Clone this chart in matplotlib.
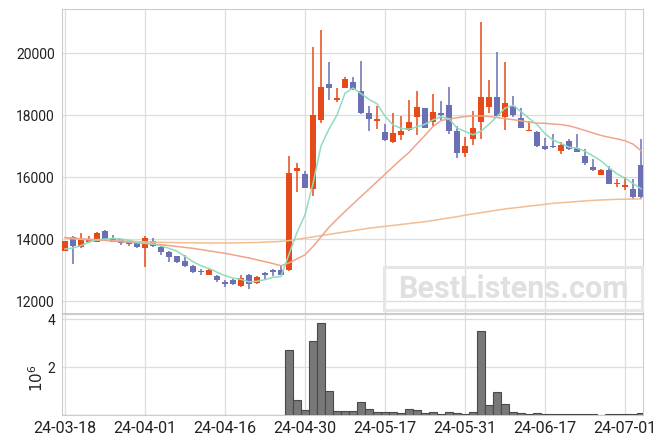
import matplotlib
matplotlib.use("Agg")
import matplotlib.pyplot as plt
import numpy as np
import pandas as pd
from matplotlib.patches import Rectangle

# trading calendar (KRX holidays skipped)
holidays = ["2024-04-10", "2024-05-01", "2024-05-06", "2024-05-15", "2024-06-06"]
dates = pd.bdate_range("2024-03-18", periods=73, freq="C", holidays=holidays)

opens = [13640, 14090, 13740, 13910, 13930, 14280, 14040, 14010, 13900, 13870,
         13710, 13950, 13760, 13580, 13460, 13310, 13150, 12980, 12850, 12830,
         12610, 12700, 12490, 12850, 12590, 12930, 13020, 13000, 13000, 16190,
         16110, 15610, 17860, 19010, 18500, 18890, 19080, 18790, 18070, 17810,
         17470, 17140, 17380, 17520, 17940, 18230, 17780, 18070, 18340, 17500,
         16770, 17230, 17780, 18260, 18590, 17940, 18300, 17910, 17500, 17460,
         17020, 17020, 16860, 17180, 16940, 16690, 16340, 16090, 16220, 15790,
         15700, 15630, 16400]
highs = [13960, 14100, 14210, 14110, 14240, 14290, 14140, 14020, 13980, 13880,
         14120, 14040, 13770, 13610, 13470, 13500, 13160, 13040, 13060, 12840,
         12680, 12710, 12850, 12870, 12830, 12940, 13030, 13130, 16690, 16460,
         16190, 20190, 20740, 19730, 18870, 19250, 19250, 19740, 18310, 18300,
         17730, 18060, 17970, 18490, 18790, 18240, 18680, 18460, 18920, 17660,
         17300, 18130, 21000, 19130, 20030, 19710, 18620, 18220, 17820, 17480,
         17260, 17400, 17150, 17230, 17400, 16920, 16600, 16270, 16350, 15960,
         16010, 15960, 17230]
lows = [13630, 13210, 13730, 13900, 13920, 13970, 13900, 13820, 13800, 13710,
        13110, 13750, 13500, 13270, 13240, 13100, 12910, 12850, 12840, 12640,
        12470, 12540, 12480, 12400, 12550, 12700, 12830, 12850, 12990, 15540,
        15660, 15400, 17750, 18500, 18420, 18880, 18830, 18050, 17500, 17550,
        17180, 17120, 17200, 17500, 17370, 17590, 17660, 17850, 17400, 16620,
        16660, 17050, 17240, 18060, 17990, 17520, 17960, 17580, 17490, 16990,
        16890, 16940, 16750, 16890, 16830, 16400, 16200, 16090, 15800, 15690,
        15600, 15300, 15300]
closes = [13960, 13770, 13990, 14020, 14210, 14010, 13930, 13870, 13840, 13740,
          14040, 13800, 13580, 13440, 13280, 13130, 12940, 12940, 13000, 12700,
          12550, 12550, 12770, 12550, 12790, 12840, 12940, 12860, 16150, 16310,
          15670, 18010, 18920, 18890, 18570, 19160, 18840, 18060, 17890, 17880,
          17190, 17420, 17490, 17780, 18260, 17600, 18100, 18000, 17480, 16780,
          17020, 17590, 18590, 18590, 17990, 18390, 18020, 17590, 17530, 17000,
          16920, 16980, 17050, 16900, 16830, 16460, 16220, 16220, 15800, 15830,
          15760, 15370, 15370]

ma5 = [13690, 13720, 13800, 13910, 13990, 14010, 14030, 14010, 13970, 13900,
       13880, 13850, 13790, 13710, 13620, 13450, 13280, 13150, 13060, 12940,
       12830, 12750, 12710, 12630, 12650, 12700, 12780, 12800, 13520, 14220,
       14790, 15800, 17010, 17560, 18010, 18710, 18880, 18700, 18510, 18370,
       17970, 17690, 17580, 17550, 17630, 17710, 17850, 17950, 17890, 17590,
       17480, 17370, 17490, 17710, 17960, 18230, 18320, 18120, 17900, 17700,
       17410, 17200, 17090, 16970, 16940, 16840, 16690, 16530, 16310, 16110,
       15970, 15800, 15630]
ma20 = [14060, 14040, 14020, 14000, 13990, 13970, 13950, 13930, 13910, 13890,
        13870, 13850, 13830, 13800, 13770, 13740, 13710, 13670, 13630, 13590,
        13550, 13500, 13450, 13400, 13340, 13280, 13220, 13150, 13240, 13370,
        13500, 13770, 14080, 14390, 14650, 14900, 15140, 15380, 15620, 15860,
        16100, 16340, 16580, 16800, 17080, 17350, 17640, 17830, 17880, 17920,
        17960, 17980, 17980, 17960, 17930, 17890, 17860, 17820, 17780, 17750,
        17740, 17720, 17700, 17660, 17590, 17510, 17430, 17350, 17290, 17240,
        17180, 17070, 16860]
ma120 = [14040, 14020, 14000, 13990, 13980, 13970, 13960, 13950, 13940, 13930,
         13920, 13910, 13905, 13900, 13895, 13890, 13890, 13885, 13885, 13885,
         13885, 13885, 13890, 13895, 13900, 13910, 13920, 13935, 13960, 14000,
         14040, 14080, 14120, 14160, 14200, 14240, 14280, 14320, 14360, 14390,
         14420, 14450, 14480, 14510, 14540, 14570, 14610, 14650, 14690, 14730,
         14780, 14820, 14860, 14900, 14940, 14980, 15010, 15040, 15070, 15100,
         15130, 15160, 15180, 15200, 15220, 15240, 15255, 15270, 15280, 15290,
         15295, 15300, 15305]

volume = [0] * 28 + [
    2.71e6, 0.61e6, 0.19e6, 3.07e6, 3.82e6, 0.99e6, 0.15e6, 0.15e6, 0.15e6, 0.53e6,
    0.24e6, 0.11e6, 0.11e6, 0.11e6, 0.07e6, 0.24e6, 0.19e6, 0.07e6, 0.11e6, 0.03e6,
    0.11e6, 0.07e6, 0.03e6, 0.11e6, 3.50e6, 0.42e6, 0.94e6, 0.44e6, 0.11e6, 0.07e6,
    0.03e6, 0.07e6, 0.03e6, 0.03e6, 0.03e6, 0.03e6, 0.03e6, 0.03e6, 0.03e6, 0,
    0.03e6, 0.03e6, 0.03e6, 0.03e6, 0.08e6]

UP = "#e64a19"
DOWN = "#6b6fb3"
GRID = "#dddddd"
SPINE = "#cccccc"
TXT = "#222222"

plt.rcParams["font.family"] = ["Roboto", "DejaVu Sans"]

fig = plt.figure(figsize=(6.63, 4.44), dpi=100)
ax = fig.add_axes([62 / 663, 1 - 313 / 444, 581 / 663, 304 / 444])
axv = fig.add_axes([62 / 663, 1 - 415 / 444, 581 / 663, 101 / 444], sharex=ax)

x = np.arange(len(dates))
o = np.array(opens)
c = np.array(closes)
colors = [UP if cc >= oo else DOWN for oo, cc in zip(o, c)]

ax.vlines(x, lows, highs, colors=colors, lw=1.1, zorder=2)
body = np.maximum(np.abs(c - o), 25)
ax.bar(x, body, bottom=np.minimum(o, c), width=0.65, color=colors, zorder=3)

ax.plot(x, ma120, color="#f2bd90", lw=1.1, zorder=4)
ax.plot(x, ma20, color="#efa58a", lw=1.1, zorder=4)
ax.plot(x, ma5, color="#8fdcc0", lw=1.1, zorder=5)

ax.set_xlim(-0.375, 72.25)
ax.set_ylim(11626, 21426)
ax.set_yticks([12000, 14000, 16000, 18000, 20000])

axv.bar(x, volume, width=1.0, color="#787878", edgecolor="#4a4a4a", lw=0.8, zorder=3)
axv.set_ylim(0, 4.21e6)
axv.set_yticks([2e6, 4e6])
axv.set_yticklabels(["2", "4"])
axv.set_ylabel(r"$10^{6}$", fontsize=11, color=TXT)
axv.yaxis.set_label_coords(-0.027, 0.36)

ticks = x[::10]
axv.set_xticks(ticks)
axv.set_xticklabels([d.strftime("%y-%m-%d") for d in dates[::10]],
                    family=["Liberation Sans Narrow", "Roboto", "DejaVu Sans"],
                    fontsize=11.5)

for a in (ax, axv):
    a.grid(True, color=GRID, lw=0.9, zorder=0)
    a.set_axisbelow(True)
    a.tick_params(length=0, pad=5, colors=TXT, labelsize=10)
    for s in a.spines.values():
        s.set_color(SPINE)
ax.tick_params(labelbottom=False)
axv.tick_params(axis="x", labelsize=11.5, pad=4)

# watermark stamp
fig.patches.append(Rectangle((384 / 663, 1 - 310 / 444), 258 / 663, 43 / 444,
                             transform=fig.transFigure, fill=False,
                             edgecolor="#e6e6e6", lw=2.2, zorder=6))
fig.text(513 / 663, 1 - 289 / 444, "BestListens.com", ha="center", va="center",
         fontsize=22, fontweight="bold", color="#e0e0e0", zorder=7)

fig.savefig("out.png", dpi=100)
